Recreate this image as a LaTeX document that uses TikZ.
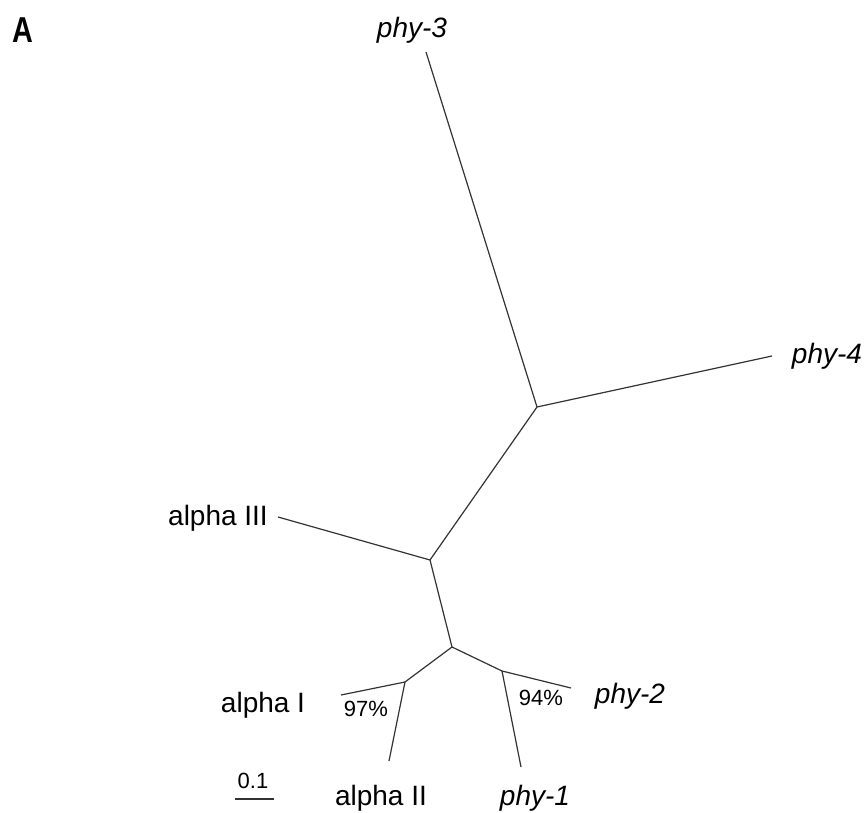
\documentclass[tikz,border=0pt]{standalone}
\usepackage{fontspec}
\setmainfont{Liberation Sans}
\begin{document}
\begin{tikzpicture}[x=1pt,y=-1pt,
  branch/.style={draw=black!80,line width=1.2pt},
  leaflabel/.style={anchor=base,inner sep=0pt,font=\fontsize{28}{30}\selectfont},
  phylabel/.style={leaflabel,font=\fontsize{28}{30}\selectfont\itshape},
  support/.style={anchor=base,inner sep=0pt,font=\fontsize{22}{24}\selectfont}]
\useasboundingbox (0,0) rectangle (868,813);
% internal junctions
\coordinate (J1) at (537,407);
\coordinate (J2) at (430,560);
\coordinate (J3) at (452,647);
\coordinate (J4) at (405,682);
\coordinate (J5) at (502,671);
% tips
\coordinate (t3) at (426,52);
\coordinate (t4) at (772,356);
\coordinate (tIII) at (278,517);
\coordinate (tI) at (341,695);
\coordinate (tII) at (389,761);
\coordinate (t2) at (571,688);
\coordinate (t1) at (521,767);
% branches
\draw[branch] (t3) -- (J1);
\draw[branch] (t4) -- (J1);
\draw[branch] (J1) -- (J2);
\draw[branch] (tIII) -- (J2);
\draw[branch] (J2) -- (J3);
\draw[branch] (J3) -- (J4);
\draw[branch] (J4) -- (tI);
\draw[branch] (J4) -- (tII);
\draw[branch] (J3) -- (J5);
\draw[branch] (J5) -- (t2);
\draw[branch] (J5) -- (t1);
% labels
\node[phylabel] (l3) at (412,38) {phy-3};
\node[phylabel] (l4) at (827,363) {phy-4};
\node[leaflabel] (lIII) at (218,525) {alpha III};
\node[leaflabel] (lI) at (263,712) {alpha I};
\node[leaflabel] (lII) at (381,805) {alpha II};
\node[phylabel] (l1) at (535,805) {phy-1};
\node[phylabel] (l2) at (630,703) {phy-2};
\node[support] (s97) at (366,716) {97\%};
\node[support] (s94) at (541,705) {94\%};
% scale bar
\node[support] (scale) at (253,788) {0.1};
\coordinate (sa) at (235,799);
\coordinate (sb) at (274,799);
\draw[branch] (sa) -- (sb);
% panel letter
\node[anchor=base,inner sep=0pt,xscale=0.8,font=\fontsize{36}{38}\selectfont\bfseries] (A) at (23,43) {A};
\end{tikzpicture}
\end{document}
